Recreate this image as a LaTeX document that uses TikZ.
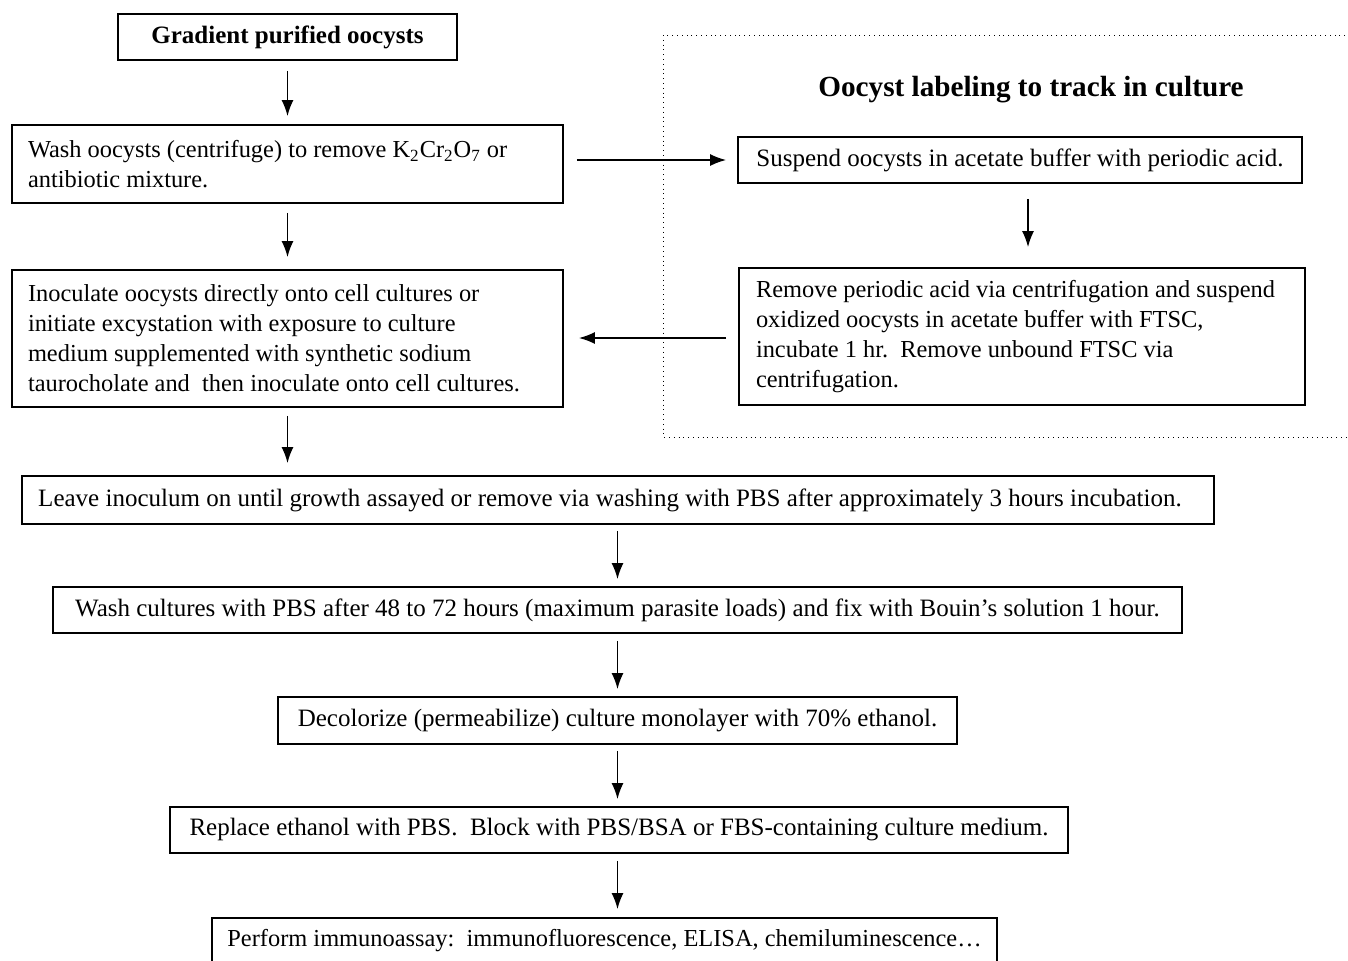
\documentclass[tikz,border=0pt]{standalone}
\usepackage{fontspec}
\setmainfont{Liberation Serif}
\usetikzlibrary{arrows.meta}
\begin{document}
\begin{tikzpicture}[x=0.5pt,y=-0.5pt,
  box/.style={draw,line width=0.9pt,rectangle,inner sep=0pt,font=\fontsize{12.5pt}{15pt}\selectfont},
  lbox/.style={box,align=flush left,font=\fontsize{12.2pt}{15pt}\selectfont},
  arr/.style={line width=0.8pt,-{Latex[length=8pt,width=6pt]}},
  dotbox/.style={line width=0.4pt,dotted}
]
\useasboundingbox (0,0) rectangle (1348,960);
% dotted group
\draw[dotbox] (663,35) rectangle (1370,437);
\node[font=\fontsize{14.6pt}{17pt}\selectfont\bfseries] (title) at (1031,90) {Oocyst labeling to track in culture};

\node[box,minimum width=169.5pt,minimum height=23pt,font=\fontsize{12.5pt}{15pt}\selectfont\bfseries] (grad) at (287.5,37) {Gradient purified oocysts};
\node[lbox,minimum width=275.5pt,minimum height=39pt,text width=259.5pt] (wash) at (287.5,164) {Wash oocysts (centrifuge) to remove K\textsubscript{2}Cr\textsubscript{2}O\textsubscript{7} or\\antibiotic mixture.};
\node[lbox,minimum width=275.5pt,minimum height=68.5pt,text width=259.5pt] (inoc) at (287.5,338.5) {Inoculate oocysts directly onto cell cultures or\\initiate excystation with exposure to culture\\medium supplemented with synthetic sodium\\taurocholate and\ \ then inoculate onto cell cultures.};
\node[box,minimum width=596pt,minimum height=24pt] (leave) at (618,500) {Leave inoculum on until growth assayed or remove via washing with PBS after approximately 3 hours incubation.\hspace*{8pt}};
\node[box,minimum width=564.5pt,minimum height=23pt] (washc) at (617.5,610) {Wash cultures with PBS after 48 to 72 hours (maximum parasite loads) and fix with Bouin’s solution 1 hour.};
\node[box,minimum width=339.5pt,minimum height=23.5pt] (decol) at (617.5,720.5) {Decolorize (permeabilize) culture monolayer with 70\% ethanol.};
\node[box,minimum width=449pt,minimum height=23pt] (repl) at (619,830) {Replace ethanol with PBS.\ \ Block with PBS/BSA or FBS-containing culture medium.};
\node[box,minimum width=392.5pt,minimum height=23pt,font=\fontsize{12.2pt}{15pt}\selectfont] (perf) at (604.5,941) {Perform immunoassay:\ \ immunofluorescence, ELISA, chemiluminescence\ldots};

\node[box,minimum width=282pt,minimum height=23pt] (susp) at (1020,160) {Suspend oocysts in acetate buffer with periodic acid.};
\node[lbox,minimum width=283pt,minimum height=68.5pt,text width=266pt] (remo) at (1022,336.5) {Remove periodic acid via centrifugation and suspend\\oxidized oocysts in acetate buffer with FTSC,\\incubate 1 hr.\ \ Remove unbound FTSC via\\centrifugation.};

% connectors
\draw[arr,shorten <=5pt,shorten >=4pt] (grad.south) -- (grad.south |- wash.north);
\draw[arr,shorten <=4.5pt,shorten >=6pt] (wash.south) -- (wash.south |- inoc.north);
\draw[arr,shorten <=4pt,shorten >=6pt] (inoc.south) -- (inoc.south |- leave.north);
\draw[arr,shorten <=3pt,shorten >=3.5pt] (washc.north |- leave.south) -- (washc.north);
\draw[arr,shorten <=3.5pt,shorten >=3.5pt] (washc.south) -- (washc.south |- decol.north);
\draw[arr,shorten <=3pt,shorten >=3.5pt] (decol.south) -- (decol.south |- repl.north);
\draw[arr,shorten <=3.5pt,shorten >=4pt] (decol.south |- repl.south) -- (decol.south |- perf.north);
\draw[arr,shorten <=6.5pt,shorten >=5.5pt] (wash.east |- susp.west) -- (susp.west);
\draw[arr,shorten <=7.5pt,shorten >=10pt] ([xshift=4pt]susp.south) -- ([xshift=4pt]susp.south |- remo.north);
\draw[arr,shorten <=6pt,shorten >=7.5pt] ([yshift=-0.75pt]remo.west) -- ([yshift=-0.75pt]inoc.east |- remo.west);
\end{tikzpicture}
\end{document}
